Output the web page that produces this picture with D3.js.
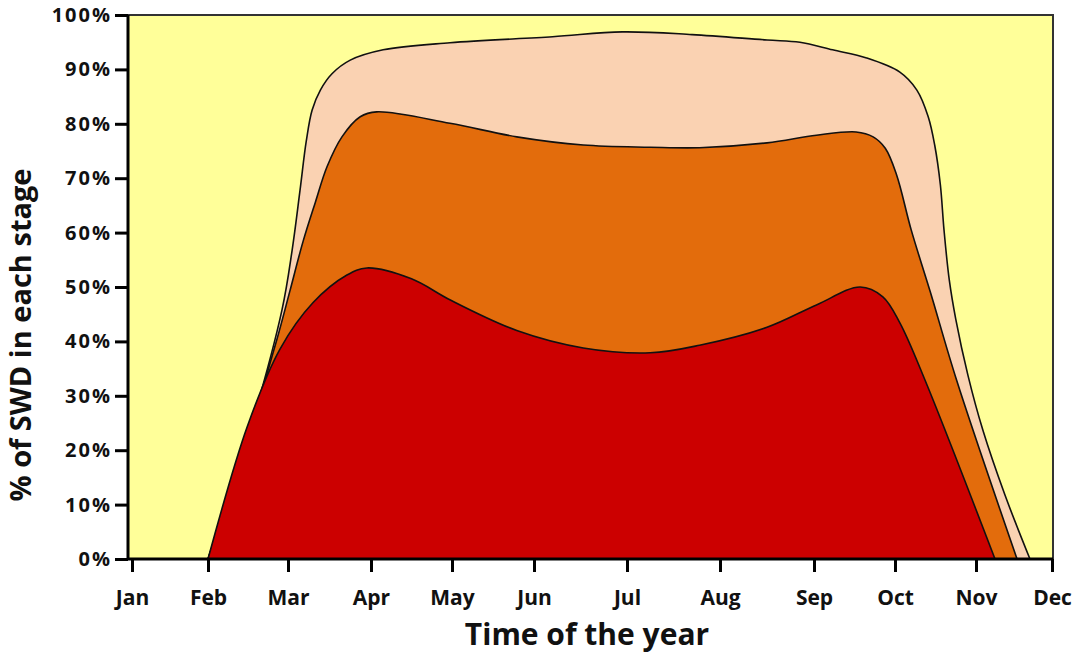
<!DOCTYPE html>
<html>
<head>
<meta charset="utf-8">
<script src="https://cdn.jsdelivr.net/npm/d3@7"></script>
<style>
  body { margin: 0; background: #fff; }
  text { font-family: "Open Sans", sans-serif; font-weight: bold; fill: #111; }
</style>
</head>
<body>
<div id="chart"></div>
<script>
// tick labels
const months = ["Jan", "Feb", "Mar", "Apr", "May", "Jun", "Jul", "Aug", "Sep", "Oct", "Nov", "Dec"];
const yTicks = [0, 10, 20, 30, 40, 50, 60, 70, 80, 90, 100];

// x in months (0 = Jan tick, 1 = Feb tick ...), y = cumulative % of SWD
// outer curve (all stages)
const topMonth = [1.0, 1.525, 1.925, 2.05, 2.145, 2.22, 2.29, 2.39, 2.53, 2.75, 3.15, 3.975, 5.2, 5.95, 6.7, 7.5, 7.85, 8.23, 8.65, 9.06, 9.27, 9.41, 9.49, 9.56, 9.605, 9.67, 9.75, 9.9, 10.09, 10.38, 10.71];
const topPct   = [0, 23.7, 45.8, 56.8, 67.8, 76.8, 82.5, 86.2, 89.2, 91.7, 93.6, 94.9, 96.0, 96.9, 96.4, 95.4, 95.0, 93.6, 92.1, 89.5, 86.2, 81.3, 76.1, 68.8, 60.5, 51.3, 44.1, 33.8, 23.7, 11.8, 0];

// middle curve (orange)
const midMonth = [1.0, 1.525, 1.86, 2.02, 2.18, 2.33, 2.47, 2.65, 2.87, 3.07, 3.975, 4.79, 5.53, 6.25, 6.78, 7.5, 8.03, 8.52, 8.73, 8.88, 9.02, 9.2, 9.44, 9.76, 10.54];
const midPct   = [0, 23.7, 40.3, 49.1, 58.3, 65.6, 72.1, 77.6, 81.3, 82.2, 80.1, 77.6, 76.1, 75.7, 75.6, 76.5, 77.9, 78.5, 77.6, 75.5, 70.6, 60.5, 48.9, 32.9, 0];

// lower curve (red)
const lowMonth = [1.0, 1.49, 1.9, 2.3, 2.71, 2.95, 3.5, 3.98, 4.79, 5.53, 6.25, 6.78, 7.5, 8.03, 8.57, 8.85, 9.06, 9.37, 10.25];
const lowPct   = [0, 24.3, 38.6, 47.1, 52.2, 53.5, 51.5, 47.6, 42.0, 38.8, 37.9, 39.3, 42.6, 46.7, 50.0, 48.2, 43.4, 32.9, 0];

const W = 1077, H = 656;
const margin = {top: 15, right: 24, bottom: 97, left: 128};
const width = W - margin.left - margin.right,
      height = H - margin.top - margin.bottom;

// month ticks in the original are not evenly spaced
const monthTickX = [4, 80, 160, 243, 324, 406, 499, 592, 686, 767, 848, 924];

const x = d3.scaleLinear().domain(d3.range(12)).range(monthTickX);
const y = d3.scaleLinear().domain([0, 100]).range([height, 0]);

const svg = d3.select("#chart").append("svg")
    .attr("width", W)
    .attr("height", H)
    .append("g")
    .attr("transform", "translate(" + margin.left + "," + margin.top + ")");

// plot background
svg.append("rect")
    .attr("width", width)
    .attr("height", height)
    .attr("fill", "#FFFF99");

const series = [
    {m: topMonth, p: topPct, color: "#FAD2B2"},
    {m: midMonth, p: midPct, color: "#E36C0C"},
    {m: lowMonth, p: lowPct, color: "#CC0000"}
];

const smooth = d3.curveCatmullRom.alpha(0.5);

const area = d3.area()
    .x(d => x(d[0]))
    .y0(y(0))
    .y1(d => y(d[1]))
    .curve(smooth);

const line = d3.line()
    .x(d => x(d[0]))
    .y(d => y(d[1]))
    .curve(smooth);

series.forEach(s => {
    let pts = s.m.map((v, i) => [v, s.p[i]]);
    svg.append("path")
        .attr("d", area(pts))
        .attr("fill", s.color);
    svg.append("path")
        .attr("d", line(pts))
        .attr("fill", "none")
        .attr("stroke", "#111")
        .attr("stroke-width", 1.6);
});

// frame top + right
svg.append("path")
    .attr("d", "M0,0H" + width + "V" + height)
    .attr("fill", "none")
    .attr("stroke", "#333")
    .attr("stroke-width", 2);

// y axis
let yAxis = svg.append("g")
    .call(d3.axisLeft(y).tickValues(yTicks).tickFormat(d => d + "%").tickSize(13).tickSizeOuter(0).tickPadding(5));
yAxis.select(".domain").remove();
yAxis.selectAll("line").attr("stroke", "#000").attr("stroke-width", 3);
yAxis.selectAll("text")
    .style("font-size", "20px")
    .style("letter-spacing", "2px")
    .attr("x", -16);

// x axis
let xAxis = svg.append("g")
    .attr("transform", "translate(0," + height + ")")
    .call(d3.axisBottom(x).tickValues(d3.range(12)).tickFormat(i => months[i]).tickSize(13).tickSizeOuter(0));
xAxis.select(".domain").remove();
xAxis.selectAll("line").attr("stroke", "#000").attr("stroke-width", 3);
xAxis.selectAll("text")
    .style("font-size", "21px")
    .attr("y", 46)
    .attr("dy", null);

// axis lines
svg.append("path")
    .attr("d", "M0,0V" + height + "H" + width)
    .attr("fill", "none")
    .attr("stroke", "#000")
    .attr("stroke-width", 3);

// titles
svg.append("text")
    .attr("transform", "translate(" + (31 - margin.left) + "," + (335 - margin.top) + ") rotate(-90)")
    .attr("text-anchor", "middle")
    .style("font-size", "29px")
    .text("% of SWD in each stage");

svg.append("text")
    .attr("x", 587 - margin.left)
    .attr("y", 645 - margin.top)
    .attr("text-anchor", "middle")
    .style("font-size", "30px")
    .text("Time of the year");
</script>
</body>
</html>
